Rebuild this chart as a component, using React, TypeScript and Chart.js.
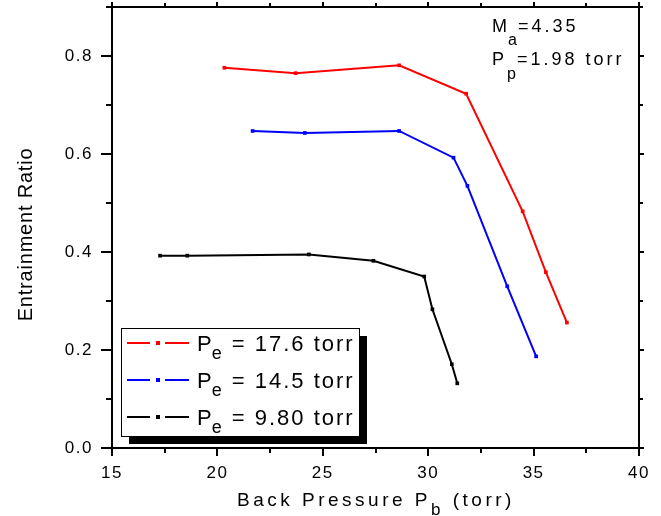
import React, { useEffect, useRef } from "react";
import { Chart, registerables } from "chart.js";

Chart.register(...registerables);

// ---- data ----
const redX = [20.33, 23.71, 28.62, 31.8, 34.48, 35.58, 36.58];
const redY = [0.776, 0.765, 0.781, 0.723, 0.483, 0.359, 0.256];
const blueX = [21.67, 24.15, 28.62, 31.2, 31.86, 33.75, 35.12];
const blueY = [0.647, 0.643, 0.647, 0.5925, 0.535, 0.33, 0.187];
const blackX = [17.28, 18.57, 24.34, 27.4, 29.81, 30.2, 31.12, 31.38];
const blackY = [0.3925, 0.3925, 0.395, 0.382, 0.35, 0.283, 0.171, 0.132];
const seriesValues = ["17.6 torr", "14.5 torr", "9.80 torr"];
const seriesColors = ["#ff0000", "#0000ff", "#000000"];
const xMin = 15, xMax = 40, xStep = 2.5, xMajor = 5;
const yMin = 0, yMax = 0.9, yStep = 0.1;
const annoMach = "=4.35";
const annoPp = "=1.98 torr";
const yTitle = "Entrainment Ratio";

const FONT = "'Liberation Sans', Arial, Helvetica, sans-serif";

function isMajorX(v: number) {
  return Math.abs(v / xMajor - Math.round(v / xMajor)) < 1e-6;
}
function isMajorY(v: number) {
  return Math.round(v * 10) % 2 === 0;
}

function drawRuns(
  ctx: CanvasRenderingContext2D,
  x: number,
  baseline: number,
  runs: { t: string; size: number; dy: number; sp: number }[]
) {
  let cx = x;
  for (const r of runs) {
    ctx.font = `${r.size}px ${FONT}`;
    (ctx as any).letterSpacing = `${r.sp}px`;
    ctx.fillText(r.t, cx, baseline + r.dy);
    cx += ctx.measureText(r.t).width;
  }
}

const framePlugin = {
  id: "framePlugin",
  beforeDraw(chart: any) {
    (chart.ctx as any).letterSpacing = "1.5px";
  },
  afterDraw(chart: any) {
    const ctx: CanvasRenderingContext2D = chart.ctx;
    const { left, right, top, bottom } = chart.chartArea;
    const xs = chart.scales.x;
    const ys = chart.scales.y;
    ctx.save();
    ctx.strokeStyle = "#000";
    ctx.fillStyle = "#000";
    ctx.lineWidth = 2;
    // ticks
    ctx.beginPath();
    xs.ticks.forEach((t: any) => {
      const px = Math.round(xs.getPixelForValue(t.value));
      const maj = isMajorX(t.value);
      ctx.moveTo(px, bottom);
      ctx.lineTo(px, bottom + (maj ? 8 : 5));
      ctx.moveTo(px, top);
      ctx.lineTo(px, top - (maj ? 5 : 4));
    });
    ys.ticks.forEach((t: any) => {
      const py = Math.round(ys.getPixelForValue(t.value));
      const maj = isMajorY(t.value);
      ctx.moveTo(left, py);
      ctx.lineTo(left - (maj ? 11 : 6), py);
      ctx.moveTo(right, py);
      ctx.lineTo(right + (maj ? 5 : 4), py);
    });
    ctx.stroke();
    // frame
    ctx.strokeRect(left, top, right - left, bottom - top);

    // legend
    const lx = left + 9, ly = 328, lw = 238, lh = 108;
    ctx.fillStyle = "#000";
    ctx.fillRect(lx + 8, ly + 8, lw, lh);
    ctx.fillStyle = "#fff";
    ctx.fillRect(lx, ly, lw, lh);
    ctx.lineWidth = 1;
    ctx.strokeStyle = "#000";
    ctx.strokeRect(lx + 0.5, ly + 0.5, lw, lh);
    ctx.textAlign = "left";
    ctx.textBaseline = "alphabetic";
    seriesValues.forEach((label, i) => {
      const yy = ly + 15 + i * 37;
      const col = seriesColors[i];
      ctx.strokeStyle = col;
      ctx.fillStyle = col;
      ctx.lineWidth = 2;
      ctx.beginPath();
      ctx.moveTo(lx + 6, yy);
      ctx.lineTo(lx + 29, yy);
      ctx.moveTo(lx + 44, yy);
      ctx.lineTo(lx + 68, yy);
      ctx.stroke();
      ctx.fillRect(lx + 35, yy - 2, 4, 4);
      ctx.fillStyle = "#000";
      drawRuns(ctx, lx + 76, yy + 8, [
        { t: "P", size: 22, dy: 0, sp: 0 },
        { t: "e", size: 18, dy: 8, sp: 2 },
        { t: " = " + label, size: 22, dy: 0, sp: 2 },
      ]);
    });

    // annotation
    ctx.fillStyle = "#000";
    drawRuns(ctx, 492, 32, [
      { t: "M", size: 18, dy: 0, sp: 1 },
      { t: "a", size: 16, dy: 13, sp: 1 },
      { t: annoMach, size: 18, dy: 0, sp: 3 },
    ]);
    drawRuns(ctx, 492, 65, [
      { t: "P", size: 18, dy: 0, sp: 3 },
      { t: "p", size: 16, dy: 14, sp: 1 },
      { t: annoPp, size: 18, dy: 0, sp: 3 },
    ]);

    // x title
    drawRuns(ctx, 237, 506, [
      { t: "Back Pressure P", size: 19, dy: 0, sp: 3.5 },
      { t: "b", size: 17, dy: 9, sp: 3.5 },
      { t: " (torr)", size: 19, dy: 0, sp: 3.5 },
    ]);

    // y title
    ctx.save();
    ctx.translate(32, (top + bottom) / 2 + 7);
    ctx.rotate(-Math.PI / 2);
    ctx.textAlign = "center";
    ctx.font = `20px ${FONT}`;
    (ctx as any).letterSpacing = "0.8px";
    ctx.fillText(yTitle, 0, 0);
    ctx.restore();

    ctx.restore();
  },
};

export default function App() {
  const ref = useRef<HTMLCanvasElement | null>(null);
  useEffect(() => {
    if (!ref.current) return;
    const mk = (xs: number[], ys: number[]) => xs.map((x, i) => ({ x, y: ys[i] }));
    const allX = [redX, blueX, blackX];
    const allY = [redY, blueY, blackY];
    const zeroPad = (s: any) => {
      s.paddingTop = 0;
      s.paddingBottom = 0;
      s.paddingLeft = 0;
      s.paddingRight = 0;
    };
    const chart = new Chart(ref.current, {
      type: "line",
      data: {
        datasets: seriesValues.map((lab, i) => ({
          label: "Pe = " + lab,
          data: mk(allX[i], allY[i]),
          borderColor: seriesColors[i],
          backgroundColor: seriesColors[i],
          borderWidth: 2,
          pointStyle: "rect",
          pointRadius: 2.6,
          pointBorderWidth: 0,
          fill: false,
          tension: 0,
        })),
      },
      options: {
        responsive: false,
        animation: false,
        layout: { padding: { top: 7, right: 22, left: 0, bottom: 0 } },
        plugins: { legend: { display: false }, tooltip: { enabled: false } },
        scales: {
          x: {
            type: "linear",
            position: "bottom",
            min: xMin,
            max: xMax,
            afterFit: (s: any) => { s.height = 68; zeroPad(s); },
            grid: { display: false, drawTicks: false },
            border: { display: false },
            ticks: {
              stepSize: xStep,
              autoSkip: false,
              maxRotation: 0,
              padding: 15,
              color: "#000",
              font: { family: FONT, size: 17 },
              callback: (v: any) => (isMajorX(Number(v)) ? String(Number(v)) : ""),
            },
          },
          y: {
            type: "linear",
            position: "left",
            min: yMin,
            max: yMax,
            afterFit: (s: any) => { s.width = 112; zeroPad(s); },
            grid: { display: false, drawTicks: false },
            border: { display: false },
            ticks: {
              stepSize: yStep,
              autoSkip: false,
              padding: 19,
              color: "#000",
              font: { family: FONT, size: 17 },
              callback: (v: any) => (isMajorY(Number(v)) ? Number(v).toFixed(1) : ""),
            },
          },
        },
      } as any,
      plugins: [framePlugin],
    });
    return () => chart.destroy();
  }, []);
  return (
    <div style={{ position: "fixed", left: 0, top: 0, width: 661, height: 516, background: "#fff" }}>
      <canvas ref={ref} width={661} height={516} style={{ display: "block" }} />
    </div>
  );
}
